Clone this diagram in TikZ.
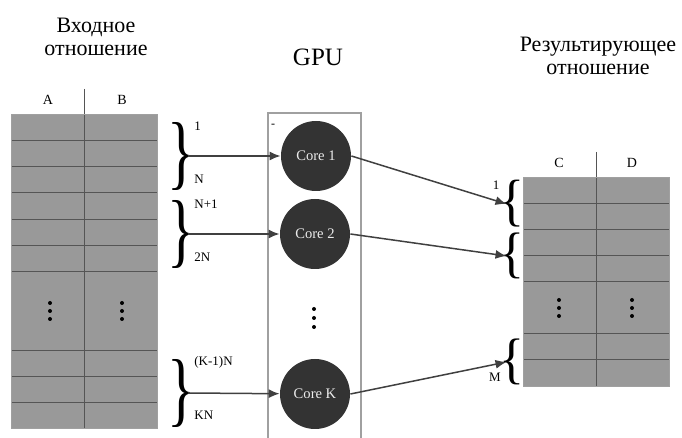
\documentclass[tikz,border=0pt]{standalone}
\usepackage{fontspec}
\usepackage{graphicx}
\setmainfont{Liberation Serif}
\usetikzlibrary{calc}
\usetikzlibrary{arrows.meta}

\definecolor{cellgray}{HTML}{999999}
\definecolor{coregray}{HTML}{333333}
\definecolor{arrowgray}{HTML}{404040}
\definecolor{linegray}{HTML}{555555}
\definecolor{boxgray}{HTML}{A0A0A0}

\newcommand{\rangeclose}[1]{\resizebox*{14pt}{#1}{\}}}
\newcommand{\rangeopen}[1]{\resizebox*{12.5pt}{#1}{\{}}

\tikzset{
  title/.style={align=center,font=\fontsize{11}{11.5}\selectfont},
  collabel/.style={font=\fontsize{7}{8}\selectfont},
  rangelabel/.style={font=\fontsize{6.5}{7}\selectfont,inner sep=1pt},
  core/.style={circle,fill=coregray,text=white!92!black,minimum size=35pt,inner sep=0pt,font=\fontsize{7.3}{8}\selectfont},
  link/.style={draw=arrowgray,line width=0.75pt,-{Latex[length=5.5pt,width=4.5pt]}},
  rowline/.style={draw=linegray,line width=0.5pt},
  curly/.style={inner ysep=0pt,inner xsep=-4pt,outer sep=0pt},
}

\begin{document}
\begin{tikzpicture}[x=0.5pt,y=-0.5pt]
\useasboundingbox (0,0) rectangle (682,438);

% titles
\node (intitle) at (96,37) [title] {Входное\\отношение};
\node (gpu) at (318,57) [font=\fontsize{12.5}{13}\selectfont] {GPU};
\node (outtitle) at (598,56) [title] {Результирующее\\отношение};

% input relation
\fill [cellgray] (11,115) rectangle (157,429);
\foreach \y in {141,167,193,220,246,272,351,377,403}
  \draw [rowline] (11,\y) -- (157,\y);
\draw [rowline] (84,89) -- (84,429);
\draw [draw=boxgray,line width=0.5pt] (11,115) rectangle (157,429);
\node (A) at (48,100) [collabel] {A};
\node (B) at (122,100) [collabel] {B};
\foreach \x in {50,122}
  \foreach \y in {303,311,319}
    \fill (\x,\y) circle (1pt);

% result relation
\fill [cellgray] (523,178) rectangle (669,387);
\foreach \y in {204,230,256,282,334,360}
  \draw [rowline] (523,\y) -- (669,\y);
\draw [rowline] (596,152) -- (596,387);
\draw [draw=boxgray,line width=0.5pt] (523,178) rectangle (669,387);
\node (C) at (559,163) [collabel] {C};
\node (D) at (632,163) [collabel] {D};
\foreach \x in {559,632}
  \foreach \y in {300,308,316}
    \fill (\x,\y) circle (1pt);

% gpu block
\draw [draw=boxgray,line width=0.6pt] (268,438) -- (268,113) -- (361,113) -- (361,438);
\node (mark) at (273,126) [font=\fontsize{6}{6}\selectfont,inner sep=0pt] {-};
\node (core1) at (316,156) [core] {Core 1};
\node (core2) at (315,234) [core] {Core 2};
\node (coreK) at (315,394) [core] {Core K};
\foreach \y in {309,318,327}
  \fill (314,\y) circle (1pt);

% input ranges
\node (br1) at (182,156) [curly] {\rangeclose{34pt}};
\node (br2) at (182,234) [curly] {\rangeclose{34pt}};
\node (br3) at (182,393) [curly] {\rangeclose{34pt}};
\node (r1a) at (192,126) [rangelabel,anchor=west] {1};
\node (r1b) at (192,179) [rangelabel,anchor=west] {N};
\node (r2a) at (192,204) [rangelabel,anchor=west] {N+1};
\node (r2b) at (192,257) [rangelabel,anchor=west] {2N};
\node (r3a) at (192,362) [rangelabel,anchor=west] {(K-1)N};
\node (r3b) at (192,415) [rangelabel,anchor=west] {KN};

% output ranges
\node (bo1) at (512,204) [curly,inner xsep=-3.5pt] {\rangeopen{23.5pt}};
\node (bo2) at (512,256) [curly,inner xsep=-3.5pt] {\rangeopen{23pt}};
\node (bo3) at (512,362) [curly,inner xsep=-3.5pt] {\rangeopen{23pt}};
\node (o1a) at (496,185) [rangelabel] {1};
\node (o3b) at (495,377) [rangelabel] {M};

% links
\draw [link] (br1.east) -- (core1);
\draw [link] (br2.east) -- (core2);
\draw [link] (br3.east) -- (coreK);
\draw [link] (core1.east) -- (bo1.west);
\draw [link] (core2.east) -- (bo2.west);
\draw [link] (coreK.east) -- (bo3.west);
\end{tikzpicture}
\end{document}
